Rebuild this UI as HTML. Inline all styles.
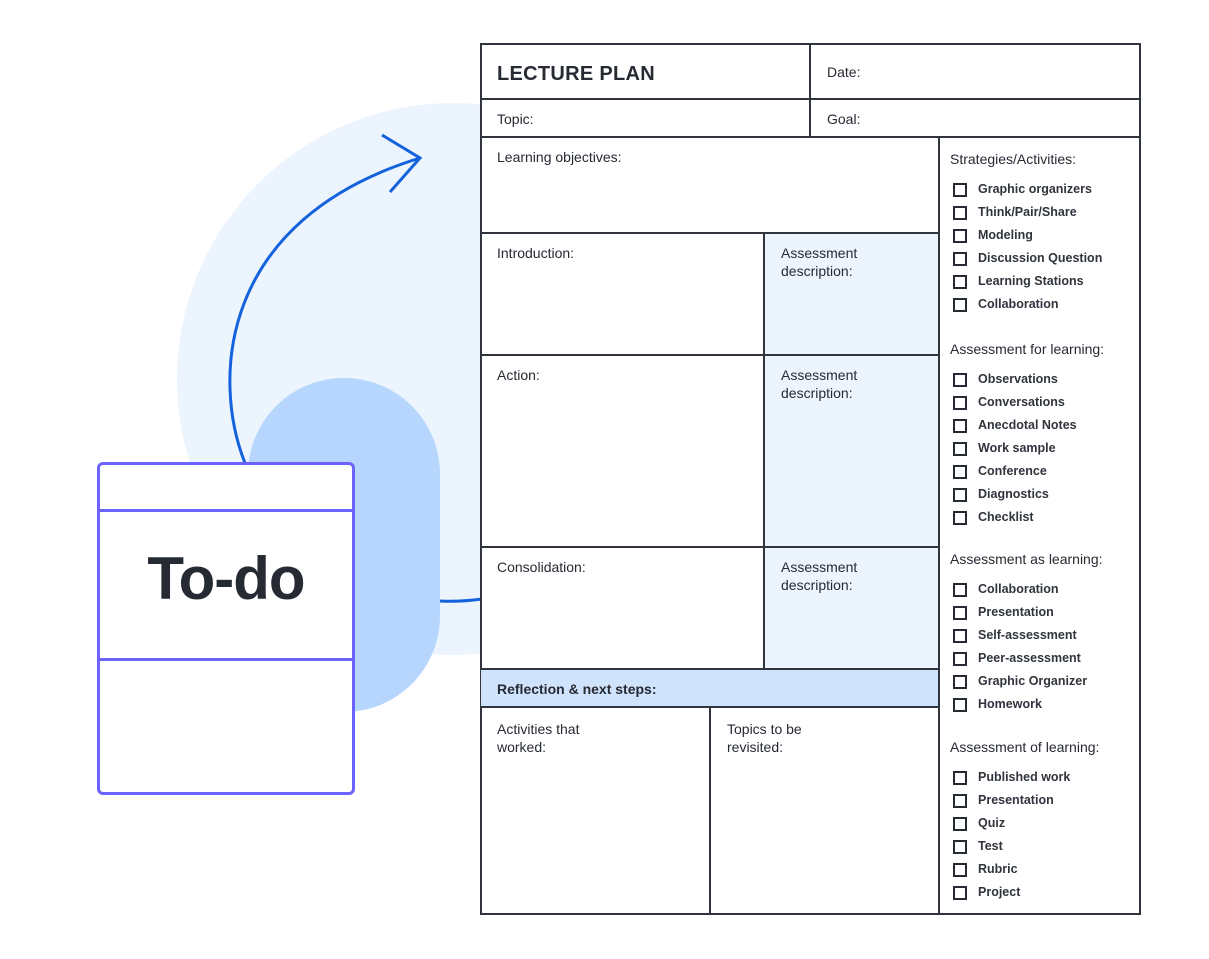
<!DOCTYPE html>
<html><head><style>
body{margin:0;width:1209px;height:959px;position:relative;background:#fff;font-family:"Liberation Sans",sans-serif;color:#262a33;overflow:hidden}
.a{position:absolute}
.t{position:absolute;font-size:14px;line-height:18px}
.cb{position:absolute;width:10px;height:10px;border:2px solid #262a33}
.it{position:absolute;font-size:12.5px;font-weight:bold;line-height:16px;color:#30343c}
</style></head><body>
<div class="a" style="left:177px;top:103px;width:552px;height:552px;border-radius:50%;background:#ecf4fe"></div>
<div class="a" style="left:248px;top:378px;width:192px;height:334px;border-radius:96px;background:#b6d6fd"></div>
<svg class="a" style="left:0;top:0" width="1209" height="959">
<path d="M245 463 C 212 380, 218 220, 420 158" fill="none" stroke="#1463dc" stroke-width="3"/>
<path d="M382 135 L420 158 L390 192" fill="none" stroke="#1463dc" stroke-width="3"/>
<path d="M440 601 Q460 602 482 599" fill="none" stroke="#1463dc" stroke-width="3"/>
</svg>
<div class="a" style="left:97px;top:462px;width:252px;height:327px;border:3px solid #6c63ff;border-radius:6px;background:#fff"></div>
<div class="a" style="left:100px;top:509px;width:252px;height:3px;background:#6c63ff"></div>
<div class="a" style="left:100px;top:658px;width:252px;height:3px;background:#6c63ff"></div>
<div class="a" style="left:100px;top:546px;width:252px;text-align:center;font-size:60px;font-weight:bold;line-height:66px;color:#262a33;letter-spacing:-1px">To-do</div>

<div class="a" style="left:480px;top:43px;width:657px;height:868px;border:2px solid #30343c;background:#fff"></div>
<div class="a" style="left:765px;top:234px;width:174px;height:435px;background:#ecf4fe"></div>
<div class="a" style="left:481px;top:669px;width:458px;height:38px;background:#cfe3fd"></div>
<svg class="a" style="left:0;top:0" width="1209" height="959">
<g stroke="#30343c" stroke-width="2" fill="none">
<line x1="810" y1="43" x2="810" y2="137"/>
<line x1="480" y1="99" x2="1141" y2="99"/>
<line x1="480" y1="137" x2="1141" y2="137"/>
<line x1="939" y1="137" x2="939" y2="915"/>
<line x1="480" y1="233" x2="939" y2="233"/>
<line x1="764" y1="233" x2="764" y2="669"/>
<line x1="480" y1="355" x2="939" y2="355"/>
<line x1="480" y1="547" x2="939" y2="547"/>
<line x1="480" y1="669" x2="939" y2="669"/>
<line x1="480" y1="707" x2="939" y2="707"/>
<line x1="710" y1="707" x2="710" y2="915"/>
</g></svg>
<div class="t" style="left:497px;top:62px;font-size:20px;font-weight:bold;line-height:24px;letter-spacing:0.3px">LECTURE PLAN</div>
<div class="t" style="left:827px;top:63px">Date:</div>
<div class="t" style="left:497px;top:110px">Topic:</div>
<div class="t" style="left:827px;top:110px">Goal:</div>
<div class="t" style="left:497px;top:148px">Learning objectives:</div>
<div class="t" style="left:497px;top:244px">Introduction:</div>
<div class="t" style="left:781px;top:244px">Assessment<br>description:</div>
<div class="t" style="left:497px;top:366px">Action:</div>
<div class="t" style="left:781px;top:366px">Assessment<br>description:</div>
<div class="t" style="left:497px;top:558px">Consolidation:</div>
<div class="t" style="left:781px;top:558px">Assessment<br>description:</div>
<div class="t" style="left:497px;top:680px;font-weight:bold">Reflection &amp; next steps:</div>
<div class="t" style="left:497px;top:720px">Activities that<br>worked:</div>
<div class="t" style="left:727px;top:720px">Topics to be<br>revisited:</div>

<div class="t" style="left:950px;top:150px">Strategies/Activities:</div>
<div class="t" style="left:950px;top:340px">Assessment for learning:</div>
<div class="t" style="left:950px;top:550px">Assessment as learning:</div>
<div class="t" style="left:950px;top:738px">Assessment of learning:</div>

<div class="cb" style="left:953px;top:183px"></div><div class="it" style="left:978px;top:181px">Graphic organizers</div>
<div class="cb" style="left:953px;top:206px"></div><div class="it" style="left:978px;top:204px">Think/Pair/Share</div>
<div class="cb" style="left:953px;top:229px"></div><div class="it" style="left:978px;top:227px">Modeling</div>
<div class="cb" style="left:953px;top:252px"></div><div class="it" style="left:978px;top:250px">Discussion Question</div>
<div class="cb" style="left:953px;top:275px"></div><div class="it" style="left:978px;top:273px">Learning Stations</div>
<div class="cb" style="left:953px;top:298px"></div><div class="it" style="left:978px;top:296px">Collaboration</div>

<div class="cb" style="left:953px;top:373px"></div><div class="it" style="left:978px;top:371px">Observations</div>
<div class="cb" style="left:953px;top:396px"></div><div class="it" style="left:978px;top:394px">Conversations</div>
<div class="cb" style="left:953px;top:419px"></div><div class="it" style="left:978px;top:417px">Anecdotal Notes</div>
<div class="cb" style="left:953px;top:442px"></div><div class="it" style="left:978px;top:440px">Work sample</div>
<div class="cb" style="left:953px;top:465px"></div><div class="it" style="left:978px;top:463px">Conference</div>
<div class="cb" style="left:953px;top:488px"></div><div class="it" style="left:978px;top:486px">Diagnostics</div>
<div class="cb" style="left:953px;top:511px"></div><div class="it" style="left:978px;top:509px">Checklist</div>

<div class="cb" style="left:953px;top:583px"></div><div class="it" style="left:978px;top:581px">Collaboration</div>
<div class="cb" style="left:953px;top:606px"></div><div class="it" style="left:978px;top:604px">Presentation</div>
<div class="cb" style="left:953px;top:629px"></div><div class="it" style="left:978px;top:627px">Self-assessment</div>
<div class="cb" style="left:953px;top:652px"></div><div class="it" style="left:978px;top:650px">Peer-assessment</div>
<div class="cb" style="left:953px;top:675px"></div><div class="it" style="left:978px;top:673px">Graphic Organizer</div>
<div class="cb" style="left:953px;top:698px"></div><div class="it" style="left:978px;top:696px">Homework</div>

<div class="cb" style="left:953px;top:771px"></div><div class="it" style="left:978px;top:769px">Published work</div>
<div class="cb" style="left:953px;top:794px"></div><div class="it" style="left:978px;top:792px">Presentation</div>
<div class="cb" style="left:953px;top:817px"></div><div class="it" style="left:978px;top:815px">Quiz</div>
<div class="cb" style="left:953px;top:840px"></div><div class="it" style="left:978px;top:838px">Test</div>
<div class="cb" style="left:953px;top:863px"></div><div class="it" style="left:978px;top:861px">Rubric</div>
<div class="cb" style="left:953px;top:886px"></div><div class="it" style="left:978px;top:884px">Project</div>
</body></html>
